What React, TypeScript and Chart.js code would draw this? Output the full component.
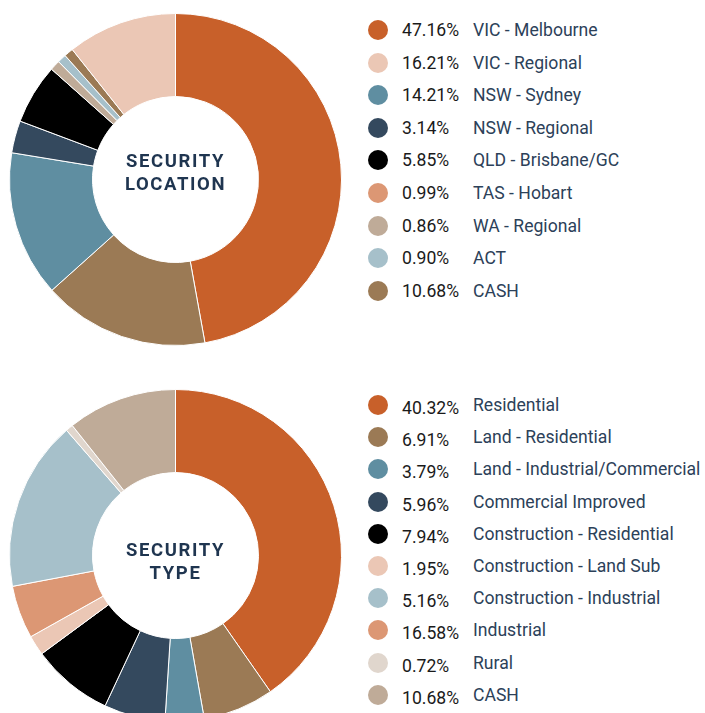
import React, { useEffect, useRef } from "react";
import { Chart, registerables } from "chart.js";

Chart.register(...registerables);

const ORANGE = "#c8602a";
const PINK = "#ebc7b5";
const BLUE = "#5f8ea1";
const NAVY = "#34495e";
const BLACK = "#000000";
const SALMON = "#dc9774";
const TAN = "#bfab98";
const LIGHTBLUE = "#a6c0ca";
const BROWN = "#9b7a55";
const RURAL = "#e0d6cd";

const locLabels = [
  "VIC - Melbourne",
  "VIC - Regional",
  "NSW - Sydney",
  "NSW - Regional",
  "QLD - Brisbane/GC",
  "TAS - Hobart",
  "WA - Regional",
  "ACT",
  "CASH",
];
const locValues = [47.16, 16.21, 14.21, 3.14, 5.85, 0.99, 0.86, 0.9, 10.68];
const locSliceColors = [ORANGE, BROWN, BLUE, NAVY, BLACK, TAN, LIGHTBLUE, BROWN, PINK];
const locLegendColors = [ORANGE, PINK, BLUE, NAVY, BLACK, SALMON, TAN, LIGHTBLUE, BROWN];

const typeLabels = [
  "Residential",
  "Land - Residential",
  "Land - Industrial/Commercial",
  "Commercial Improved",
  "Construction - Residential",
  "Construction - Land Sub",
  "Construction - Industrial",
  "Industrial",
  "Rural",
  "CASH",
];
const typeValues = [40.32, 6.91, 3.79, 5.96, 7.94, 1.95, 5.16, 16.58, 0.72, 10.68];
const typeSliceColors = [ORANGE, BROWN, BLUE, NAVY, BLACK, PINK, SALMON, LIGHTBLUE, RURAL, TAN];
const typeLegendColors = [ORANGE, BROWN, BLUE, NAVY, BLACK, PINK, LIGHTBLUE, SALMON, RURAL, TAN];

function Donut(props: { values: number[]; colors: string[]; labels: string[]; left: number; top: number; size: number }) {
  const ref = useRef<HTMLCanvasElement | null>(null);
  useEffect(() => {
    if (!ref.current) return;
    const chart = new Chart(ref.current, {
      type: "doughnut",
      data: {
        labels: props.labels,
        datasets: [
          {
            data: props.values,
            backgroundColor: props.colors,
            borderColor: "#ffffff",
            borderWidth: 1,
          },
        ],
      },
      options: {
        animation: false,
        responsive: false,
        cutout: "50%",
        layout: { padding: 0 },
        plugins: { legend: { display: false }, tooltip: { enabled: false } },
      },
    });
    return () => chart.destroy();
  }, []);
  return (
    <canvas
      ref={ref}
      width={props.size}
      height={props.size}
      style={{ position: "absolute", left: props.left, top: props.top, width: props.size, height: props.size }}
    />
  );
}

function Legend(props: { labels: string[]; values: number[]; colors: string[]; top: number; step: number; pctDy: number }) {
  return (
    <>
      {props.labels.map((lab, i) => {
        const y = props.top + i * props.step;
        return (
          <React.Fragment key={i}>
            <div
              style={{
                position: "absolute",
                left: 368,
                top: y - 10,
                width: 20,
                height: 20,
                borderRadius: "50%",
                background: props.colors[i],
              }}
            />
            <div
              style={{
                position: "absolute",
                left: 402,
                top: y - 12 + props.pctDy,
                height: 24,
                lineHeight: "24px",
                fontSize: 17.6,
                color: "#1a1a1a",
                whiteSpace: "nowrap",
              }}
            >
              {props.values[i].toFixed(2) + "%"}
            </div>
            <div
              style={{
                position: "absolute",
                left: 473,
                top: y - 12,
                height: 24,
                lineHeight: "24px",
                fontSize: 17.6,
                color: "#2c4159",
                whiteSpace: "nowrap",
              }}
            >
              {lab}
            </div>
          </React.Fragment>
        );
      })}
    </>
  );
}

function CenterText(props: { lines: string[]; cx: number; cy: number }) {
  return (
    <div
      style={{
        position: "absolute",
        left: props.cx - 80,
        top: props.cy - 24,
        width: 161,
        textAlign: "center",
        fontWeight: 700,
        fontSize: 18.5,
        lineHeight: "23px",
        letterSpacing: "1.6px",
        color: "#1f3550",
      }}
    >
      {props.lines.map((l, i) => (
        <div key={i}>{l}</div>
      ))}
    </div>
  );
}

export default function App() {
  return (
    <div
      style={{
        position: "absolute",
        left: 0,
        top: 0,
        width: 705,
        height: 713,
        overflow: "hidden",
        background: "#ffffff",
        fontFamily: "Roboto, 'Noto Sans', sans-serif",
      }}
    >
      <Donut values={locValues} colors={locSliceColors} labels={locLabels} left={9} top={13} size={333} />
      <CenterText lines={["SECURITY", "LOCATION"]} cx={175} cy={174} />
      <Legend labels={locLabels} values={locValues} colors={locLegendColors} top={30} step={32.6} pctDy={0} />

      <Donut values={typeValues} colors={typeSliceColors} labels={typeLabels} left={9} top={389} size={333} />
      <CenterText lines={["SECURITY", "TYPE"]} cx={175} cy={563} />
      <Legend labels={typeLabels} values={typeValues} colors={typeLegendColors} top={405} step={32.2} pctDy={3} />
    </div>
  );
}
